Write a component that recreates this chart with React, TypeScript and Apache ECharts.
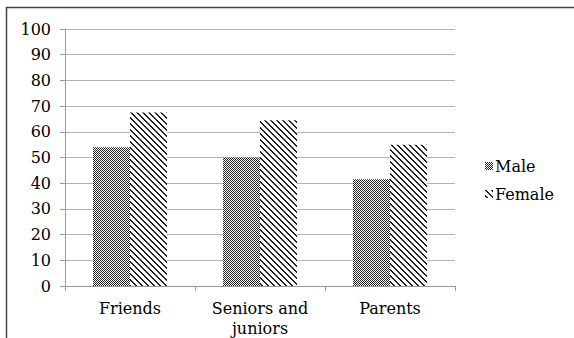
import React, { useEffect, useRef } from "react";
import * as echarts from "echarts";

const categories = ["Friends", "Seniors and\njuniors", "Parents"];
const maleValues = [54, 50, 41.5];
const femaleValues = [67.5, 64.5, 55];
const seriesNames = ["Male", "Female"];

function makeChecker(): HTMLCanvasElement {
  const c = document.createElement("canvas");
  c.width = 2;
  c.height = 2;
  const ctx = c.getContext("2d")!;
  ctx.fillStyle = "#ffffff";
  ctx.fillRect(0, 0, 2, 2);
  ctx.fillStyle = "#222222";
  ctx.fillRect(0, 0, 1, 1);
  ctx.fillRect(1, 1, 1, 1);
  return c;
}

function makeStripes(): HTMLCanvasElement {
  const n = 6;
  const c = document.createElement("canvas");
  c.width = n;
  c.height = n;
  const ctx = c.getContext("2d")!;
  ctx.fillStyle = "#ffffff";
  ctx.fillRect(0, 0, n, n);
  ctx.fillStyle = "#222222";
  for (let y = 0; y < n; y++) {
    for (let x = 0; x < n; x++) {
      const d = (((x - y) % n) + n) % n;
      if (d === 0 || d === 1) ctx.fillRect(x, y, 1, 1);
    }
  }
  return c;
}

export default function App() {
  const ref = useRef<HTMLDivElement>(null);
  useEffect(() => {
    if (!ref.current) return;
    const chart = echarts.init(ref.current, null, { renderer: "svg" });
    const font = "DejaVu Serif";
    const maleFill = { image: makeChecker(), repeat: "repeat" };
    const femaleFill = { image: makeStripes(), repeat: "repeat" };
    chart.setOption({
      animation: false,
      backgroundColor: "#ffffff",
      textStyle: { fontFamily: font },
      grid: { left: 65, right: 119, top: 29, bottom: 52 },
      legend: {
        orient: "vertical",
        left: 480,
        top: 153,
        itemWidth: 8,
        itemHeight: 8,
        itemGap: 12,
        icon: "rect",
        textStyle: { fontFamily: font, fontSize: 16, color: "#000", padding: [0, 0, 0, -3] },
        data: seriesNames,
      },
      xAxis: {
        type: "category",
        data: categories,
        axisLine: { lineStyle: { color: "#999" } },
        axisTick: { show: true, length: 5, lineStyle: { color: "#999" } },
        axisLabel: { color: "#000", fontFamily: font, fontSize: 16, margin: 12, lineHeight: 20 },
      },
      yAxis: {
        type: "value",
        min: 0,
        max: 100,
        interval: 10,
        axisLine: { show: true, lineStyle: { color: "#999" } },
        axisTick: { show: true, length: 5, lineStyle: { color: "#999" } },
        axisLabel: { color: "#000", fontFamily: font, fontSize: 16, margin: 14 },
        splitLine: { lineStyle: { color: "#b3b3b3" } },
      },
      series: [
        {
          name: seriesNames[0],
          type: "bar",
          data: maleValues,
          barGap: "0%",
          barCategoryGap: "43%",
          itemStyle: { color: maleFill },
        },
        {
          name: seriesNames[1],
          type: "bar",
          data: femaleValues,
          barGap: "0%",
          barCategoryGap: "43%",
          itemStyle: { color: femaleFill },
        },
      ],
      graphic: [
        { type: "line", shape: { x1: 6, y1: 7.5, x2: 574, y2: 7.5 }, style: { stroke: "#444", lineWidth: 1.5 } },
        { type: "line", shape: { x1: 6.5, y1: 7, x2: 6.5, y2: 338 }, style: { stroke: "#444", lineWidth: 1.5 } },
      ],
    });
    return () => chart.dispose();
  }, []);
  return (
    <div
      ref={ref}
      style={{ position: "fixed", left: 0, top: 0, width: 574, height: 338 }}
    />
  );
}
